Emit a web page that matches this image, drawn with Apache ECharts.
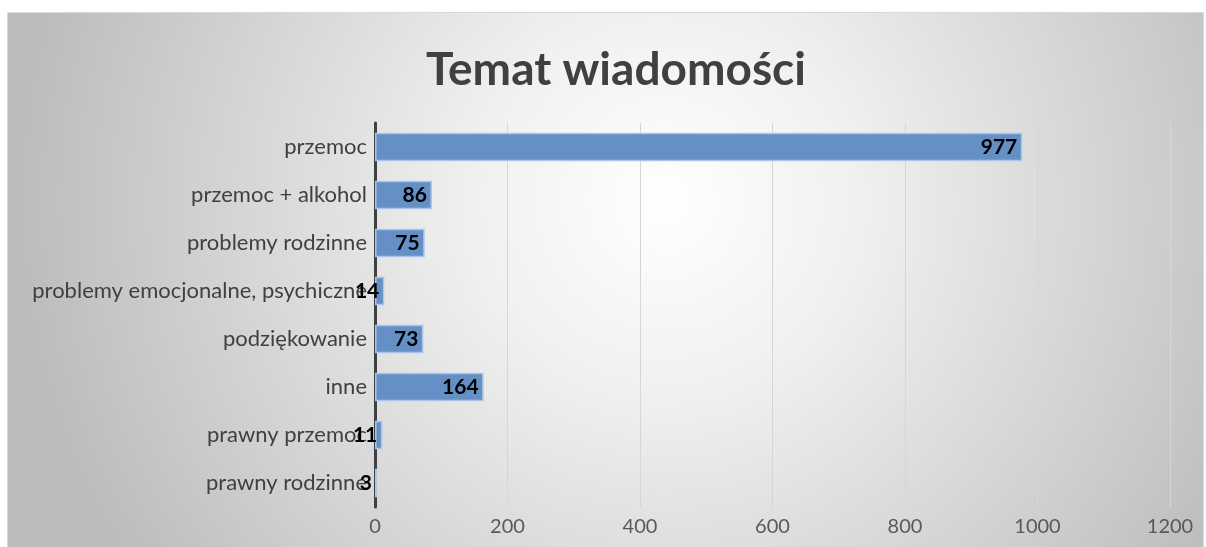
<!DOCTYPE html>
<html>
<head>
<meta charset="utf-8">
<script src="https://cdn.jsdelivr.net/npm/echarts@6/dist/echarts.min.js"></script>
<style>
html, body { margin: 0; padding: 0; background: #fff; }
#chart { width: 1206px; height: 547px; }
</style>
</head>
<body>
<div id="chart"></div>
<script>
// dane wykresu
var categories = ['przemoc', 'przemoc + alkohol', 'problemy rodzinne', 'problemy emocjonalne, psychiczne', 'podziękowanie', 'inne', 'prawny przemoc', 'prawny rodzinne'];
var values = [977, 86, 75, 14, 73, 164, 11, 3];
var xTicks = [0, 200, 400, 600, 800, 1000, 1200];

var myChart = echarts.init(document.getElementById('chart'));
var option = {
    backgroundColor: '#fff',
    textStyle: { fontFamily: 'Lato' },
    graphic: [
        {
            type: 'rect',
            z: -10,
            shape: { x: 7.5, y: 12.5, width: 1196, height: 540 },
            style: {
                fill: new echarts.graphic.RadialGradient(0.55, 0.35, 1.2, [
                    { offset: 0, color: '#ffffff' },
                    { offset: 0.3, color: '#f0f0f0' },
                    { offset: 1, color: '#bcbcbc' }
                ]),
                stroke: '#d9d9d9',
                lineWidth: 1
            }
        }
    ],
    title: {
        text: 'Temat wiadomości',
        left: 421,
        top: 42,
        textStyle: {
            fontFamily: 'Lato',
            fontSize: 46,
            fontWeight: 'bold',
            color: '#404040'
        }
    },
    grid: {
        left: 375,
        right: 36,
        top: 123,
        bottom: 40,
        containLabel: false
    },
    xAxis: {
        type: 'value',
        min: 0,
        max: 1200,
        interval: 200,
        axisLine: { show: false },
        axisTick: { show: false },
        splitLine: { lineStyle: { color: '#d6d6d6', width: 1 } },
        axisLabel: {
            fontFamily: 'Lato',
            fontSize: 20,
            color: '#595959',
            margin: 10,
            formatter: function (v) { return xTicks.indexOf(v) >= 0 ? String(v) : ''; }
        }
    },
    yAxis: {
        type: 'category',
        data: categories,
        inverse: true,
        axisLine: { show: true, lineStyle: { color: '#404040', width: 3 } },
        axisTick: { show: false },
        axisLabel: {
            fontFamily: 'Lato',
            fontSize: 22,
            color: '#404040',
            margin: 8
        }
    },
    series: [
        {
            type: 'bar',
            data: values,
            barWidth: '59%',
            itemStyle: {
                color: '#6590c6',
                borderColor: '#a9c6e8',
                borderWidth: 1.5
            },
            label: {
                show: true,
                position: 'insideRight',
                distance: 5,
                fontFamily: 'Lato',
                fontSize: 21,
                fontWeight: 'bold',
                color: '#000'
            }
        }
    ]
};
myChart.setOption(option);
</script>
</body>
</html>
